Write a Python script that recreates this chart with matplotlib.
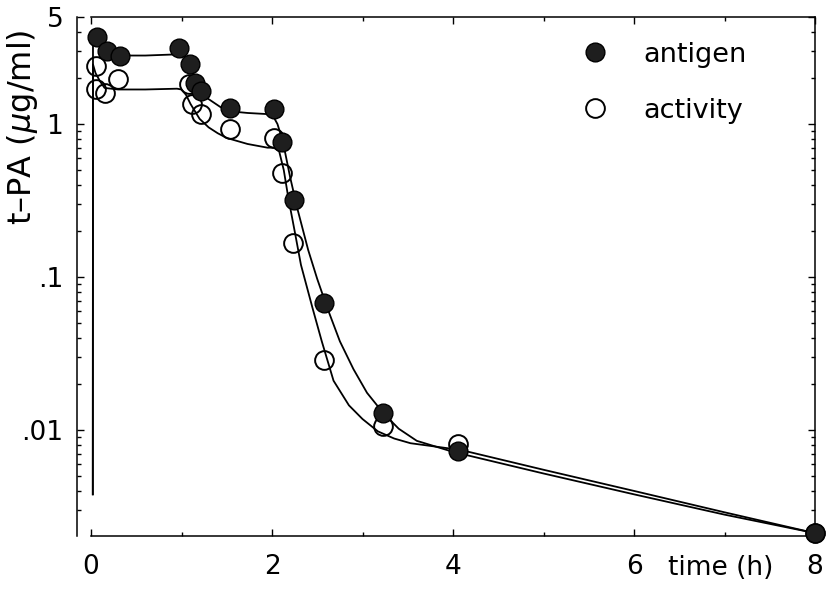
import matplotlib
matplotlib.use("Agg")
import matplotlib.pyplot as plt
from matplotlib.ticker import LogLocator, FixedLocator, NullFormatter, MultipleLocator

# ---- measured data (time in h, t-PA in ug/ml) ----
antigen_t = [0.07, 0.18, 0.32, 0.97, 1.09, 1.15, 1.21, 1.54, 2.02, 2.11, 2.24, 2.57, 3.23, 4.05, 8.0]
antigen_v = [3.7, 3.0, 2.78, 3.14, 2.47, 1.85, 1.64, 1.27, 1.25, 0.76, 0.32, 0.068, 0.0129, 0.0073, 0.00212]

activity_t = [0.05, 0.05, 0.155, 0.3, 1.08, 1.12, 1.21, 1.54, 2.02, 2.11, 2.23, 2.57, 3.23, 4.06, 8.0]
activity_v = [2.39, 1.69, 1.59, 1.97, 1.83, 1.35, 1.16, 0.93, 0.81, 0.48, 0.167, 0.0287, 0.0106, 0.0081, 0.00212]

# fitted curves
fit_antigen_t = [0.02, 0.022, 0.05, 0.1, 0.2, 0.3, 0.6, 0.95, 1.0, 1.05, 1.09, 1.15, 1.2, 1.28, 1.43,
                 1.6, 1.73, 1.95, 2.0, 2.06, 2.12, 2.2, 2.28, 2.4, 2.5, 2.61, 2.75, 2.9, 3.05, 3.23,
                 3.4, 3.6, 4.0, 5.0, 6.0, 7.0, 8.0]
fit_antigen_v = [0.0038, 3.8, 3.5, 3.2, 2.9, 2.8, 2.8, 2.85, 2.85, 2.7, 2.47, 2.0, 1.72, 1.48, 1.29,
                 1.2, 1.18, 1.16, 1.16, 1.0, 0.77, 0.45, 0.28, 0.15, 0.097, 0.063, 0.038, 0.025, 0.0175, 0.0129,
                 0.0102, 0.0085, 0.0072, 0.0052, 0.0038, 0.0028, 0.00212]

fit_activity_t = [0.02, 0.022, 0.05, 0.1, 0.15, 0.3, 0.6, 0.95, 1.0, 1.05, 1.1, 1.2, 1.3, 1.4, 1.5,
                  1.73, 1.95, 2.02, 2.08, 2.13, 2.18, 2.25, 2.32, 2.45, 2.55, 2.68, 2.85, 3.0, 3.17,
                  3.35, 3.53, 4.09, 5.0, 6.0, 7.0, 8.0]
fit_activity_v = [0.0038, 2.45, 2.15, 1.9, 1.72, 1.68, 1.68, 1.70, 1.68, 1.55, 1.35, 1.08, 0.95, 0.87, 0.81,
                  0.74, 0.70, 0.70, 0.66, 0.5, 0.33, 0.2, 0.12, 0.062, 0.038, 0.021, 0.0145, 0.0118, 0.0098,
                  0.0088, 0.0082, 0.0074, 0.0055, 0.0040, 0.0029, 0.00212]

y_ticks = [0.01, 0.1, 1, 5]
y_ticklabels = [".01", ".1", "1", "5"]
x_ticks = [0, 2, 4, 6, 8]
x_ticklabels = ["0", "2", "4", "6", "8"]

plt.rcParams['font.family'] = ['DejaVu Sans']
plt.rcParams['mathtext.fontset'] = 'dejavusans'

fig = plt.figure(figsize=(8.26, 5.89), dpi=100)
ax = fig.add_axes([91/826, 1-536/589, (815-91)/826, (536-17)/589])

ax.set_yscale('log')
ax.set_xlim(0, 8)
ax.set_ylim(0.00203, 5)

ax.plot(fit_antigen_t, fit_antigen_v, color='black', lw=1.3, zorder=2)
ax.plot(fit_activity_t, fit_activity_v, color='black', lw=1.3, zorder=2)

ms = 13.5
ax.plot(activity_t, activity_v, 'o', ms=ms, mfc='none', mec='black', mew=1.4, zorder=3, clip_on=False)
ax.plot(antigen_t, antigen_v, 'o', ms=ms, mfc='#1e1e1e', mec='black', mew=1.0, zorder=4, clip_on=False)

# spines
for s in ax.spines.values():
    s.set_linewidth(1.1)
ax.spines['left'].set_position(('outward', 10))

ax.yaxis.set_major_locator(FixedLocator(y_ticks))
ax.set_yticklabels(y_ticklabels)
ax.yaxis.set_minor_locator(LogLocator(base=10, subs=range(2, 10), numticks=20))
ax.yaxis.set_minor_formatter(NullFormatter())
ax.set_xticks(x_ticks)
ax.set_xticklabels(x_ticklabels)
ax.xaxis.set_minor_locator(MultipleLocator(1))

ax.tick_params(which='both', direction='in', top=True, right=True, width=1.0)
ax.tick_params(which='major', length=5)
ax.tick_params(which='minor', length=3)
ax.tick_params(axis='x', which='major', labelsize=19, pad=13)
ax.tick_params(axis='y', which='major', labelsize=19, pad=10)

ax.set_ylabel(r"t–PA ($\mu$g/ml)", fontsize=23)
ax.yaxis.set_label_coords(40/826, 1-127/589, transform=fig.transFigure)

fig.text(721/826, 1-568/589, "time (h)", fontsize=19, ha='center', va='center')

# legend keys
ax.plot([0.696], [0.9326], 'o', ms=ms, mfc='#1e1e1e', mec='black', mew=1.0, transform=ax.transAxes, clip_on=False)
ax.plot([0.696], [0.8247], 'o', ms=ms, mfc='none', mec='black', mew=1.4, transform=ax.transAxes, clip_on=False)
ax.text(0.7624, 1-(62-17)/519, "antigen", fontsize=19.5, transform=ax.transAxes, va='baseline', ha='left')
ax.text(0.7624, 1-(118-17)/519, "activity", fontsize=19.5, transform=ax.transAxes, va='baseline', ha='left')

fig.savefig("out.png", dpi=100)
